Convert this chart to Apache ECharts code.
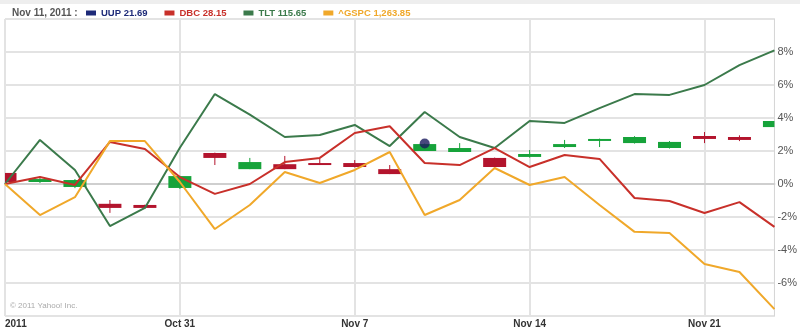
<!DOCTYPE html>
<html>
<head>
<meta charset="utf-8">
<script src="https://cdn.jsdelivr.net/npm/echarts@6/dist/echarts.min.js"></script>
<style>
html,body{margin:0;padding:0;background:#fff;}
#chart{width:800px;height:329px;}
</style>
</head>
<body>
<div id="chart"></div>
<script>
// ---- data ----
const categories = ['Oct 24','Oct 25','Oct 26','Oct 27','Oct 28','Oct 31','Nov 1','Nov 2','Nov 3','Nov 4','Nov 7','Nov 8','Nov 9','Nov 10','Nov 11','Nov 14','Nov 15','Nov 16','Nov 17','Nov 18','Nov 21','Nov 22','Nov 23'];
const xTickCategories = ['Oct 24','Oct 31','Nov 7','Nov 14','Nov 21'];
const xTickLabels = ['2011','Oct 31','Nov 7','Nov 14','Nov 21'];
const yTickValues = [-6,-4,-2,0,2,4,6,8];

// UUP candlesticks in %
const uupOpen  = [0.67,0.12,-0.18,-1.20,-1.27,-0.24,1.88,0.90,1.20,1.27,1.27,0.90,2.00,1.94,1.58,1.64,2.24,2.67,2.48,2.18,2.91,2.85,3.45];
const uupClose = [0.12,0.30, 0.24,-1.45,-1.45, 0.48,1.58,1.33,0.90,1.15,1.03,0.60,2.42,2.18,1.03,1.82,2.42,2.73,2.85,2.55,2.73,2.67,3.82];
const uupLow   = [0.10,0.06,-0.25,-1.75,-1.50,-0.30,1.15,0.90,0.90,1.15,1.00,0.60,2.00,1.94,1.00,1.60,2.18,2.24,2.45,2.15,2.48,2.60,3.40];
const uupHigh  = [0.70,0.42, 0.30,-0.97,-1.25, 0.50,1.90,1.58,1.70,1.52,1.45,1.15,2.45,2.48,1.60,2.06,2.67,2.75,2.90,2.60,3.15,2.95,3.85];

const dbc  = [0,0.42,-0.06,2.55,2.12,0.42,-0.60,0.00,1.33,1.58,3.09,3.50,1.27,1.15,2.18,1.03,1.76,1.52,-0.85,-1.03,-1.76,-1.10,-2.60];
const tlt  = [0,2.67,0.85,-2.55,-1.45,2.20,5.45,4.20,2.85,2.97,3.58,2.30,4.36,2.85,2.18,3.82,3.70,4.60,5.45,5.40,6.00,7.20,8.10];
const gspc = [0,-1.88,-0.80,2.60,2.60,0.12,-2.73,-1.27,0.73,0.06,0.85,1.94,-1.88,-0.97,0.97,-0.06,0.42,-1.27,-2.90,-2.97,-4.85,-5.33,-7.58];

const markerDates = ['Nov 9'];
const markerValues = [2.45];

const legendNames = ['UUP','DBC','TLT','^GSPC'];
const legendValues = ['21.69','28.15','115.65','1,263.85'];
const headerDate = 'Nov 11, 2011 :';

// ---- styles ----
const C_UUP = '#1d2a78', C_DBC = '#c8302a', C_TLT = '#3b7a4b', C_GSPC = '#f0a82a';
const C_RED = '#b3142d', C_GREEN = '#16a33a';
const legendColors = [C_UUP, C_DBC, C_TLT, C_GSPC];
const legendTextColors = ['#1d2a78','#c8302a','#3b7a4b','#f0a82a'];
const CANDLE_W = 23;

const candleData = categories.map((c,i)=>[i, uupOpen[i], uupClose[i], uupLow[i], uupHigh[i]]);
const tickIdx = xTickCategories.map(c=>categories.indexOf(c));

function renderCandle(params, api){
  const x = api.value(0), o = api.value(1), c = api.value(2), l = api.value(3), h = api.value(4);
  const pO = api.coord([x,o]), pC = api.coord([x,c]), pL = api.coord([x,l]), pH = api.coord([x,h]);
  const cs = params.coordSys;
  const color = c >= o ? C_GREEN : C_RED;
  const top = Math.min(pO[1], pC[1]);
  const hgt = Math.max(Math.abs(pO[1]-pC[1]), 2);
  const body = echarts.graphic.clipRectByRect({x:pO[0]-CANDLE_W/2, y:top, width:CANDLE_W, height:hgt},
    {x:cs.x, y:cs.y, width:cs.width, height:cs.height});
  const children = [];
  if (pO[0] > cs.x + 1 && pO[0] < cs.x + cs.width - 1) {
    children.push({type:'line', shape:{x1:pO[0], y1:pH[1], x2:pO[0], y2:pL[1]}, style:{stroke:color, lineWidth:1}});
  }
  if (body) children.push({type:'rect', shape:body, style:{fill:color}});
  return {type:'group', children};
}

const chart = echarts.init(document.getElementById('chart'), null, {renderer:'canvas'});
chart.setOption({
  animation:false,
  backgroundColor:'#fff',
  title:{
    text: headerDate, left:12, top:8, padding:0,
    textStyle:{fontFamily:'Liberation Sans', fontSize:10, fontWeight:'bold', color:'#555'}
  },
  legend:{
    left:86, top:8, padding:0, itemGap:17, icon:'rect', itemWidth:10, itemHeight:5,
    data: legendNames.map((n,i)=>({name:n, icon:'rect', itemStyle:{color:legendColors[i], borderWidth:0}, textStyle:{color:legendTextColors[i]}})),
    formatter: n => n + ' ' + legendValues[legendNames.indexOf(n)],
    textStyle:{fontFamily:'Liberation Sans', fontSize:9.5, fontWeight:'bold'},
    selectedMode:false
  },
  grid:{left:5, right:23, top:19, bottom:13, show:true, borderColor:'#d6d6d6', borderWidth:1},
  xAxis:{
    type:'category', data:categories, boundaryGap:false,
    axisLine:{show:true, lineStyle:{color:'#cfcfcf', width:2}},
    axisTick:{show:false},
    axisLabel:{
      interval:(i)=>tickIdx.indexOf(i)>=0,
      formatter:(v,i)=>{const k=xTickCategories.indexOf(v);return k>=0?xTickLabels[k]:'';},
      fontFamily:'Liberation Sans', fontSize:10, fontWeight:'bold', color:'#333', margin:3,
      alignMinLabel:'left', showMinLabel:true
    },
    splitLine:{show:true, interval:(i)=>tickIdx.indexOf(i)>=0, lineStyle:{color:'#e3e3e3', width:2}}
  },
  yAxis:{
    type:'value', position:'right', min:-8, max:10, interval:2,
    axisLine:{show:true, lineStyle:{color:'#d6d6d6'}},
    axisTick:{show:false},
    axisLabel:{
      formatter:(v)=> yTickValues.indexOf(v)>=0 ? v+'%' : '',
      fontFamily:'Liberation Sans', fontSize:11, color:'#555', margin:3
    },
    splitLine:{show:true, lineStyle:{color:'#e3e3e3', width:2}}
  },
  graphic:[
    {type:'rect', left:0, top:0, shape:{width:800, height:4}, style:{fill:'#eeeeee'}, silent:true},
    {type:'text', left:10, top:302, style:{text:'\u00a9 2011 Yahoo! Inc.', fill:'#aaaaaa', font:'8px "Liberation Sans"'}, silent:true}
  ],
  series:[
    {
      name:'UUP', type:'custom', data:candleData, renderItem:renderCandle,
      encode:{x:0, y:[1,2,3,4]}, itemStyle:{color:C_UUP}
    },
    {name:'TLT', type:'line', data:tlt, symbol:'none', lineStyle:{color:C_TLT, width:2}, itemStyle:{color:C_TLT}},
    {name:'DBC', type:'line', data:dbc, symbol:'none', lineStyle:{color:C_DBC, width:2}, itemStyle:{color:C_DBC}},
    {name:'^GSPC', type:'line', data:gspc, symbol:'none', lineStyle:{color:C_GSPC, width:2}, itemStyle:{color:C_GSPC}},
    {name:'marker', type:'scatter', data:markerDates.map((d,i)=>[d, markerValues[i]]), symbolSize:10,
     itemStyle:{color:'#1a1a5e'}, z:5}
  ]
});
</script>
</body>
</html>
